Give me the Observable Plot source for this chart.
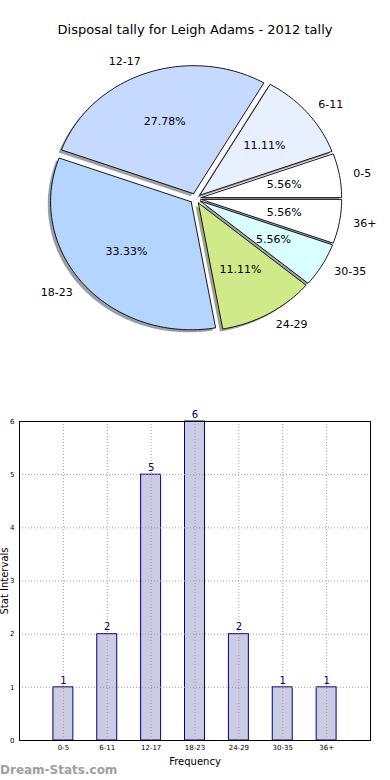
<!DOCTYPE html>
<html><head><meta charset="utf-8">
<script src="https://cdn.jsdelivr.net/npm/d3@7"></script>
<script src="https://cdn.jsdelivr.net/npm/@observablehq/plot@0.6"></script>
<style>
html,body{margin:0;padding:0;background:#fff;width:390px;height:780px;overflow:hidden;font-family:"DejaVu Sans",sans-serif;}
#title{position:absolute;top:22px;left:0;width:390px;text-align:center;font-size:13px;color:#000;}
#pie{position:absolute;top:0;left:0;}
#bar{position:absolute;top:400px;left:0;}
#wm{position:absolute;left:0;top:763px;font-size:12px;font-weight:bold;color:#a0a0a0;}
</style></head><body>
<div id="pie"></div>
<div id="title"></div>
<div id="bar"></div>
<div id="wm"></div>
<script>
const titleText = "Disposal tally for Leigh Adams - 2012 tally";
const categories = ["0-5", "6-11", "12-17", "18-23", "24-29", "30-35", "36+"];
const counts = [1, 2, 5, 6, 2, 1, 1];
const sliceColors = ["#ffffff", "#e8f0ff", "#c6daff", "#b3d5ff", "#d0ea8a", "#d9ffff", "#ffffff"];
const explodeFrac = [0.04, 0.04, 0.04, 0.04, 0.04, 0.04, 0.04];
const yTicks = [0, 1, 2, 3, 4, 5, 6];
const xLabel = "Frequency";
const yLabel = "Stat Intervals";
const watermark = "Dream-Stats.com";

document.getElementById("title").textContent = titleText;
document.getElementById("wm").textContent = watermark;

// ---- Pie ----
const total = d3.sum(counts);
let acc = 0;
const slices = categories.map((c, i) => {
  const t1 = acc / total * 2 * Math.PI;
  acc += counts[i];
  const t2 = acc / total * 2 * Math.PI;
  const mid = (t1 + t2) / 2;
  const e = explodeFrac[i];
  return {cat: c, t1, t2, mid, e, ox: e * Math.cos(mid), oy: e * Math.sin(mid),
          pct: (counts[i] / total * 100).toFixed(2) + "%", color: sliceColors[i]};
});
function wedge(s, dx, dy) {
  const a = {x: s.ox + dx, y: s.oy + dy};
  const pts = [a];
  const n = Math.max(4, Math.ceil((s.t2 - s.t1) / (Math.PI / 120)));
  for (let k = 0; k <= n; k++) {
    const t = s.t1 + (s.t2 - s.t1) * k / n;
    pts.push({x: a.x + Math.cos(t), y: a.y + Math.sin(t)});
  }
  pts.push(a);
  return pts;
}
function shadowColor(hex) {
  const c = d3.rgb(hex);
  return d3.rgb(0.5 * 255 + 0.15 * c.r, 0.5 * 255 + 0.15 * c.g, 0.5 * 255 + 0.15 * c.b).formatHex();
}
const pieMarks = [];
slices.forEach(s => pieMarks.push(Plot.line(wedge(s, -0.02, -0.02), {x: "x", y: "y", fill: shadowColor(s.color), stroke: "none", curve: "linear"})));
slices.forEach(s => pieMarks.push(Plot.line(wedge(s, 0, 0), {x: "x", y: "y", fill: s.color, stroke: "#000", strokeWidth: 0.9, curve: "linear", strokeLinejoin: "miter"})));
pieMarks.push(Plot.text(slices.filter(s => Math.cos(s.mid) >= 0), {
  x: s => (1.1 + s.e) * Math.cos(s.mid), y: s => (1.1 + s.e) * Math.sin(s.mid),
  text: "cat", textAnchor: "start", fontSize: 11, fill: "#000"}));
pieMarks.push(Plot.text(slices.filter(s => Math.cos(s.mid) < 0), {
  x: s => (1.1 + s.e) * Math.cos(s.mid), y: s => (1.1 + s.e) * Math.sin(s.mid),
  text: "cat", textAnchor: "end", fontSize: 11, fill: "#000"}));
pieMarks.push(Plot.text(slices, {
  x: s => (0.6 + s.e) * Math.cos(s.mid), y: s => (0.6 + s.e) * Math.sin(s.mid),
  text: "pct", textAnchor: "middle", fontSize: 11, fill: "#000"}));

const pie = Plot.plot({
  width: 390, height: 380, margin: 0,
  style: {fontFamily: "DejaVu Sans", background: "transparent", overflow: "visible"},
  x: {domain: [-1.3869, 1.3869], axis: null},
  y: {domain: [-1.4219, 1.5469], axis: null},
  marks: pieMarks
});
document.getElementById("pie").appendChild(pie);

// ---- Bars ----
const barData = categories.map((c, i) => ({cat: c, count: counts[i]}));
const bar = Plot.plot({
  width: 390, height: 380, marginLeft: 19, marginRight: 20, marginTop: 21, marginBottom: 40,
  style: {fontFamily: "DejaVu Sans", fontSize: "7px", background: "#fff", overflow: "visible"},
  x: {domain: categories, paddingInner: 0.545, paddingOuter: 0.7725, align: 0.5, round: false},
  y: {domain: [0, 6]},
  marks: [
    Plot.barY(barData, {x: "cat", y: "count", fill: "#cbcbe3", stroke: "#000080", strokeWidth: 1}),
    Plot.gridX({stroke: "#999", strokeOpacity: 0.9, strokeDasharray: "1,2"}),
    Plot.gridY(yTicks, {stroke: "#999", strokeOpacity: 0.9, strokeDasharray: "1,2"}),
    Plot.text(barData, {x: "cat", y: "count", text: d => String(d.count), dy: -7, fill: "#000080", fontSize: 10}),
    Plot.axisX({tickSize: 0, tickPadding: 5, label: null, fontSize: 7}),
    Plot.axisY(yTicks, {tickSize: 0, tickPadding: 5, label: null, fontSize: 7, tickFormat: d3.format("d")}),
    Plot.text([xLabel], {frameAnchor: "bottom", dy: 24, fontSize: 10, fill: "#000", textAnchor: "middle"}),
    Plot.text([yLabel], {frameAnchor: "left", dx: -15, rotate: -90, fontSize: 10, fill: "#000", textAnchor: "middle"}),
    Plot.frame({stroke: "#000"})
  ]
});
document.getElementById("bar").appendChild(bar);
</script>
</body></html>
